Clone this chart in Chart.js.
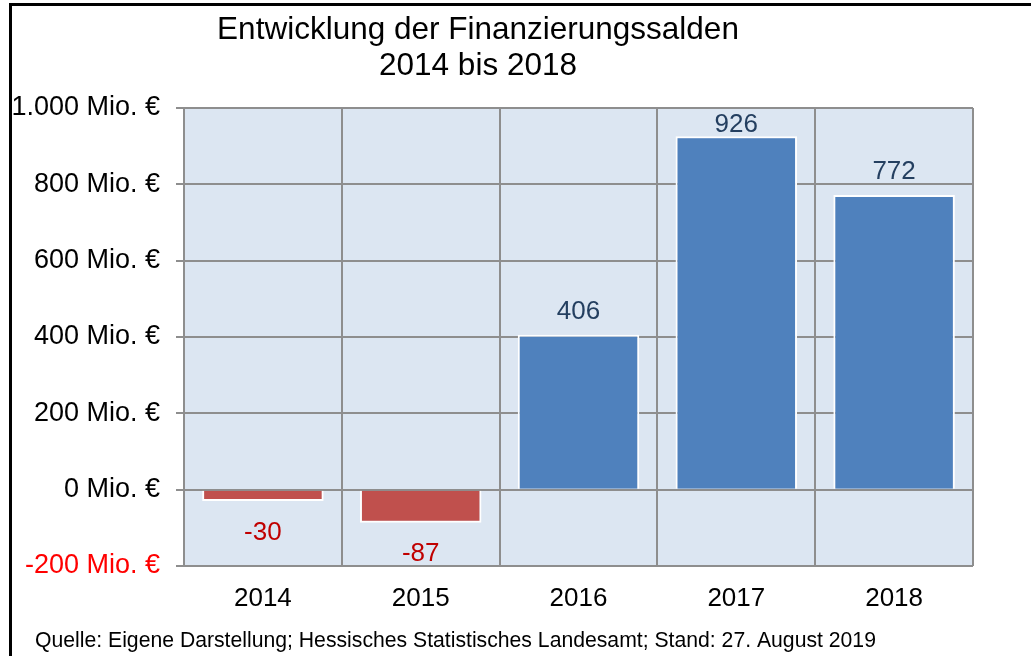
<!DOCTYPE html>
<html>
<head>
<meta charset="utf-8">
<script src="https://cdn.jsdelivr.net/npm/chart.js@4/dist/chart.umd.min.js"></script>
<style>
  html, body { margin: 0; padding: 0; background: #fff; }
  #wrap { position: relative; width: 1031px; height: 656px; }
</style>
</head>
<body>
<div id="wrap"><canvas id="myChart" width="1031" height="656"></canvas></div>
<script>
const years = ['2014', '2015', '2016', '2017', '2018'];
const salden = [-30, -87, 406, 926, 772];
const yTicks = [-200, 0, 200, 400, 600, 800, 1000];
const titleLines = ['Entwicklung der Finanzierungssalden', '2014 bis 2018'];
const sourceText = 'Quelle: Eigene Darstellung; Hessisches Statistisches Landesamt; Stand: 27. August 2019';

const font = '"Liberation Sans", Arial, sans-serif';
const ctx = document.getElementById('myChart').getContext('2d');

function formatTick(v) {
  return v.toLocaleString('de-DE') + ' Mio. €';
}

// background of plot, frame, title, source, value labels
const decorations = {
  id: 'decorations',
  beforeDraw(chart) {
    const c = chart.ctx;
    const a = chart.chartArea;
    c.save();
    c.fillStyle = '#dce6f2';
    c.fillRect(a.left, a.top, a.right - a.left, a.bottom - a.top);
    c.restore();
  },
  afterDraw(chart) {
    const c = chart.ctx;
    const a = chart.chartArea;
    c.save();
    // outer frame (only top and left edges are in view)
    c.strokeStyle = '#000';
    c.lineWidth = 3;
    c.beginPath();
    c.moveTo(10.5, 660);
    c.lineTo(10.5, 4.5);
    c.lineTo(1040, 4.5);
    c.stroke();

    // title
    c.fillStyle = '#000';
    c.font = '31.5px ' + font;
    c.textAlign = 'center';
    c.textBaseline = 'alphabetic';
    c.fillText(titleLines[0], 478, 39);
    c.fillText(titleLines[1], 478, 75);

    // source
    c.font = '21.2px ' + font;
    c.textAlign = 'left';
    c.fillText(sourceText, 35, 647);

    // value labels
    const meta = chart.getDatasetMeta(0);
    c.font = '26px ' + font;
    c.textAlign = 'center';
    meta.data.forEach((bar, i) => {
      const v = salden[i];
      if (v >= 0) {
        c.fillStyle = '#243f60';
        const y = Math.max(bar.y - 16, a.top + 24);
        c.fillText(String(v), bar.x, y);
      } else {
        c.fillStyle = '#c00000';
        c.fillText(String(v), bar.x, bar.y + 38.5);
      }
    });
    c.restore();
  }
};

const chart = new Chart(ctx, {
  type: 'bar',
  data: {
    labels: years,
    datasets: [{
      data: salden,
      backgroundColor: salden.map(v => v < 0 ? '#c0504d' : '#4f81bd'),
      borderColor: '#ffffff',
      borderWidth: 2,
      categoryPercentage: 1,
      barPercentage: 0.77
    }]
  },
  options: {
    responsive: false,
    animation: false,
    layout: { padding: { top: 108, right: 58, bottom: 40, left: 0 } },
    plugins: {
      legend: { display: false },
      title: { display: false },
      tooltip: { enabled: false }
    },
    scales: {
      x: {
        grid: { color: '#8e8e8e', lineWidth: 2, drawTicks: false, offset: true },
        border: { display: false },
        ticks: { color: '#000', font: { family: font, size: 26 }, padding: 17 },
        afterFit(scale) { scale.height = 50; }
      },
      y: {
        min: yTicks[0],
        max: yTicks[yTicks.length - 1],
        afterBuildTicks(scale) { scale.ticks = yTicks.map(v => ({ value: v })); },
        grid: { color: '#8e8e8e', lineWidth: 2, tickLength: 8 },
        border: { display: false },
        ticks: {
          padding: 16,
          font: { family: font, size: 27 },
          color: c => c.tick && c.tick.value < 0 ? '#ff0000' : '#000',
          callback: v => formatTick(v)
        },
        afterFit(scale) { scale.width = 184; }
      }
    }
  },
  plugins: [decorations]
});
</script>
</body>
</html>
